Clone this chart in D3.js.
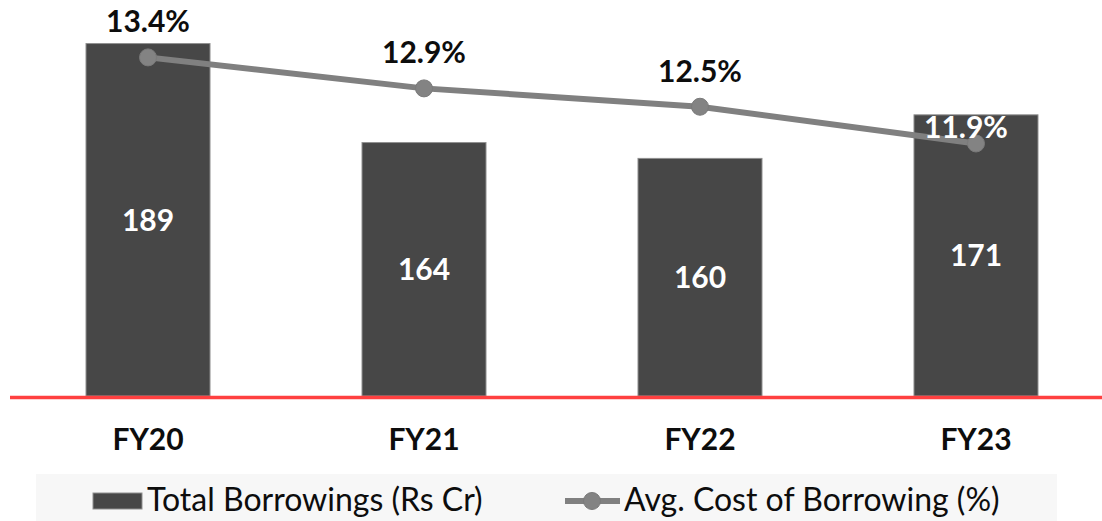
<!DOCTYPE html>
<html>
<head>
<meta charset="utf-8">
<script src="https://cdn.jsdelivr.net/npm/d3@7"></script>
<style>
    html, body { margin: 0; padding: 0; background: #fff; }
    svg { display: block; font-family: Lato, 'Open Sans', sans-serif; }
</style>
</head>
<body>
<div id="chart"></div>
<script>
var categories = ['FY20', 'FY21', 'FY22', 'FY23'];
var borrowings = [189, 164, 160, 171];
var costOfBorrowing = [13.4, 12.86, 12.54, 11.9];
var seriesNames = ['Total Borrowings (Rs Cr)', 'Avg. Cost of Borrowing (%)'];

var width = 1102, height = 521;
var baseY = 396;

var svg = d3.select('#chart')
    .append('svg')
    .attr('width', width)
    .attr('height', height);

var x = d3.scaleBand()
    .domain(categories)
    .range([10, 1114])
    .paddingInner(0.5507)
    .paddingOuter(0.2754);

// bar axis does not start at zero
var y = d3.scaleLinear().domain([100, 200]).range([baseY, 0]);
var y2 = d3.scaleLinear().domain([7.5, 14.4]).range([baseY, 0]);

var data = categories.map(function (c, i) {
    return { cat: c, value: borrowings[i], cost: costOfBorrowing[i] };
});

// bars
svg.selectAll('.bar')
    .data(data)
    .enter()
    .append('rect')
    .attr('class', 'bar')
    .attr('x', function (d) { return x(d.cat); })
    .attr('y', function (d) { return y(d.value); })
    .attr('width', x.bandwidth())
    .attr('height', function (d) { return y(100) - y(d.value); })
    .attr('fill', '#474747')
    .attr('stroke', '#8f8f8f')
    .attr('stroke-width', 1);

// bar value labels
svg.selectAll('.bar-label')
    .data(data)
    .enter()
    .append('text')
    .attr('x', function (d) { return x(d.cat) + x.bandwidth() / 2; })
    .attr('y', function (d) { return (y(d.value) + y(100)) / 2; })
    .attr('dy', '0.36em')
    .attr('text-anchor', 'middle')
    .attr('fill', '#fff')
    .attr('font-size', 30)
    .attr('font-weight', 'bold')
    .text(function (d) { return d.value; });

// x axis line
svg.append('line')
    .attr('x1', 10)
    .attr('x2', width)
    .attr('y1', baseY + 1.5)
    .attr('y2', baseY + 1.5)
    .attr('stroke', '#ff4040')
    .attr('stroke-width', 3.5);

// category labels
var xAxis = svg.append('g')
    .attr('transform', 'translate(0,' + baseY + ')')
    .call(d3.axisBottom(x).tickSize(0).tickPadding(33));
xAxis.select('.domain').remove();
xAxis.selectAll('text')
    .attr('font-family', 'Lato, sans-serif')
    .attr('font-size', 30)
    .attr('font-weight', 'bold')
    .attr('fill', '#0d0d0d');

// cost line
var line = d3.line()
    .x(function (d) { return x(d.cat) + x.bandwidth() / 2; })
    .y(function (d) { return y2(d.cost); });

svg.append('path')
    .datum(data)
    .attr('d', line)
    .attr('fill', 'none')
    .attr('stroke', '#808080')
    .attr('stroke-width', 6);

svg.selectAll('.dot')
    .data(data)
    .enter()
    .append('circle')
    .attr('cx', function (d) { return x(d.cat) + x.bandwidth() / 2; })
    .attr('cy', function (d) { return y2(d.cost); })
    .attr('r', 8.5)
    .attr('fill', '#838383')
    .attr('stroke', '#7a7a7a')
    .attr('stroke-width', 1);

// cost labels; the last one sits inside its bar
svg.selectAll('.cost-label')
    .data(data)
    .enter()
    .append('text')
    .attr('x', function (d, i) {
        var cx = x(d.cat) + x.bandwidth() / 2;
        return i === data.length - 1 ? cx - 10 : cx;
    })
    .attr('y', function (d, i) {
        return y2(d.cost) - (i === data.length - 1 ? 5 : 25);
    })
    .attr('text-anchor', 'middle')
    .attr('font-size', 30)
    .attr('font-weight', 'bold')
    .attr('fill', function (d, i) { return i === data.length - 1 ? '#fff' : '#0d0d0d'; })
    .text(function (d) { return d3.format('.1f')(d.cost) + '%'; });

// legend
var legend = svg.append('g');
legend.append('rect')
    .attr('x', 36)
    .attr('y', 474)
    .attr('width', 1021)
    .attr('height', 47)
    .attr('fill', '#f7f7f7');

legend.append('rect')
    .attr('x', 93)
    .attr('y', 493)
    .attr('width', 49)
    .attr('height', 16)
    .attr('fill', '#474747')
    .attr('stroke', '#8f8f8f');

legend.append('text')
    .attr('x', 147)
    .attr('y', 511)
    .attr('font-size', 32)
    .attr('fill', '#0d0d0d')
    .text(seriesNames[0]);

legend.append('line')
    .attr('x1', 565)
    .attr('x2', 620)
    .attr('y1', 501)
    .attr('y2', 501)
    .attr('stroke', '#808080')
    .attr('stroke-width', 6);

legend.append('circle')
    .attr('cx', 592)
    .attr('cy', 501)
    .attr('r', 8.5)
    .attr('fill', '#838383')
    .attr('stroke', '#7a7a7a');

legend.append('text')
    .attr('x', 624)
    .attr('y', 511)
    .attr('font-size', 32)
    .attr('fill', '#0d0d0d')
    .text(seriesNames[1]);
</script>
</body>
</html>
